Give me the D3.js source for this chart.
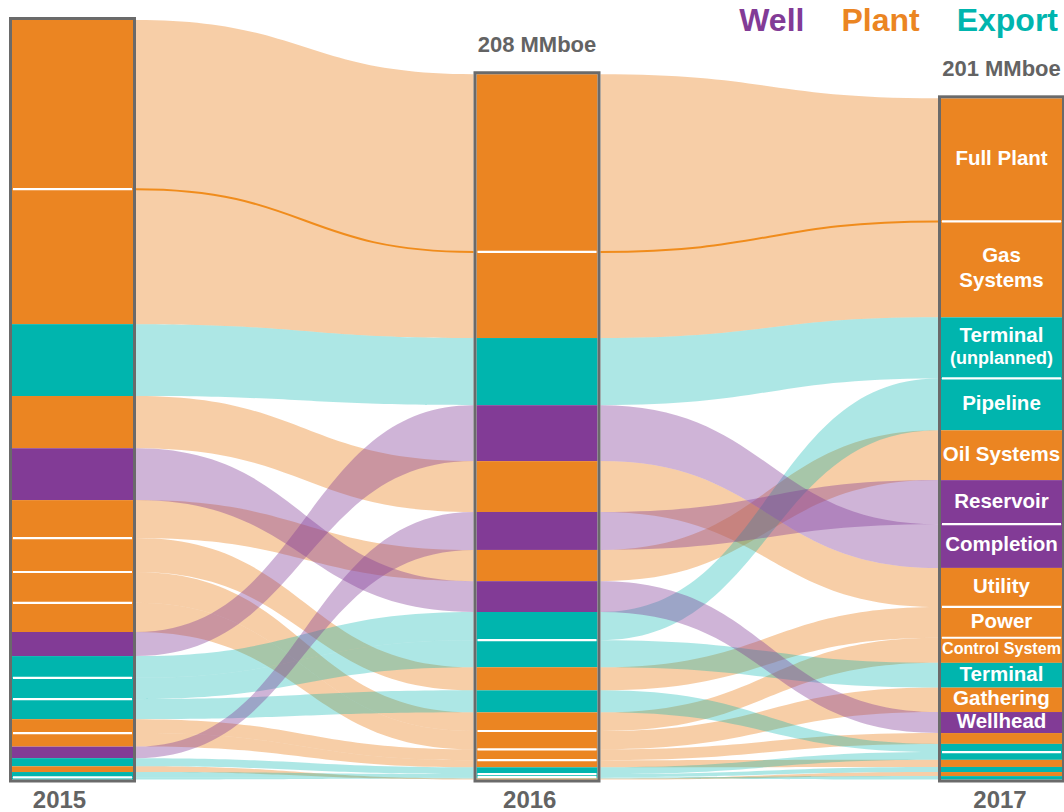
<!DOCTYPE html>
<html>
<head>
<meta charset="utf-8">
<script src="https://cdn.jsdelivr.net/npm/d3@7"></script>
<style>
  html, body { margin: 0; padding: 0; background: #ffffff; }
  svg { display: block; font-family: "Liberation Sans", Arial, Helvetica, sans-serif; font-weight: bold; }
</style>
</head>
<body>
<svg id="chart" width="1064" height="812"></svg>
<script>
// Deferred production (MMboe) by cause, ranked within each year
const years = ["2015", "2016", "2017"];

const categories = [
  "Full Plant", "Gas Systems", "Terminal (unplanned)", "Pipeline", "Oil Systems",
  "Reservoir", "Completion", "Utility", "Power", "Control System",
  "Terminal", "Gathering", "Wellhead", "Compression", "Water Injection",
  "Flare", "Tanker Loading", "Metering", "Storage", "Jetty"
];

const groups = [
  "Plant", "Plant", "Export", "Export", "Plant",
  "Well", "Well", "Plant", "Plant", "Plant",
  "Export", "Plant", "Well", "Plant", "Plant",
  "Plant", "Export", "Export", "Export", "Export"
];

const values2015 = [49.9, 39.8, 21.2, 6.4, 11.2, 3.4, 7.1, 15.4, 10.0, 9.1, 6.3, 8.6, 15.3, 4.1, 4.0, 1.7, 5.9, 2.4, 1.6, 0.6];
const values2016 = [52.4, 25.4, 19.8, 8.3, 9.2, 11.2, 16.5, 15.0, 6.8, 5.5, 8.0, 5.4, 9.1, 3.2, 2.1, 0.3, 6.5, 2.0, 0.9, 0.4];
const values2017 = [36.3, 28.3, 18.0, 15.3, 14.7, 13.0, 12.9, 11.5, 9.1, 7.4, 7.3, 7.2, 6.2, 3.2, 2.1, 1.2, 2.4, 2.3, 1.5, 1.0];

// Labels written inside the latest year's column (one entry per line)
const labelLines = [
  ["Full Plant"], ["Gas", "Systems"], ["Terminal", "(unplanned)"], ["Pipeline"], ["Oil Systems"],
  ["Reservoir"], ["Completion"], ["Utility"], ["Power"], ["Control System"],
  ["Terminal"], ["Gathering"], ["Wellhead"], [], [],
  [], [], [], [], []
];

const legendItems = ["Well", "Plant", "Export"];
const unit = "MMboe";

// ---------------------------------------------------------------------------
const valuesByYear = [values2015, values2016, values2017];

const svg = d3.select("#chart");

const colour = d3.scaleOrdinal()
  .domain(["Well", "Plant", "Export"])
  .range(["#823B96", "#EB8522", "#00B5AE"]);

const totals = valuesByYear.map(v => d3.sum(v));

const x = d3.scalePoint().domain(years).range([72.5, 1001.5]);
const xYearLabel = d3.scalePoint().domain(years).range([59.5, 1000]);
const y = d3.scaleLinear().domain([0, d3.max(totals)]).range([779.5, 20]);

const half = 62;       // half column width, measured to the frame's stroke centre
const frameW = 3;
const innerHalf = half - frameW / 2;
const outerHalf = half + frameW / 2;

// Rank each year and stack from the top down
const layout = years.map((yr, yi) => {
  const vals = valuesByYear[yi];
  const order = d3.range(categories.length).sort((a, b) => vals[b] - vals[a]);
  const total = totals[yi];
  const pos = new Array(categories.length);
  let acc = 0;
  order.forEach(ci => {
    pos[ci] = { top: y(total - acc), bottom: y(total - acc - vals[ci]) };
    acc += vals[ci];
  });
  return { year: yr, order, pos, total };
});

function ribbonPath(x0, t0, b0, x1, t1, b1) {
  const xm = (x0 + x1) / 2;
  const p = d3.path();
  p.moveTo(x0, t0);
  p.bezierCurveTo(xm, t0, xm, t1, x1, t1);
  p.lineTo(x1, b1);
  p.bezierCurveTo(xm, b1, xm, b0, x0, b0);
  p.closePath();
  return p.toString();
}

function edgePath(x0, y0, x1, y1) {
  const xm = (x0 + x1) / 2;
  const p = d3.path();
  p.moveTo(x0, y0);
  p.bezierCurveTo(xm, y0, xm, y1, x1, y1);
  return p.toString();
}

// Ribbons between consecutive years
const ribbonLayer = svg.append("g").attr("class", "ribbons");
const drawOrder = ["Plant", "Export", "Well"];
const ribbonData = [];
for (let yi = 0; yi < years.length - 1; yi++) {
  const a = layout[yi], b = layout[yi + 1];
  const x0 = x(a.year) + outerHalf, x1 = x(b.year) - outerHalf;
  categories.forEach((c, ci) => {
    ribbonData.push({
      group: groups[ci],
      d: ribbonPath(x0, a.pos[ci].top, a.pos[ci].bottom, x1, b.pos[ci].top, b.pos[ci].bottom)
    });
  });
}
ribbonData.sort((p, q) => drawOrder.indexOf(p.group) - drawOrder.indexOf(q.group));
ribbonLayer.selectAll("path")
  .data(ribbonData)
  .join("path")
  .attr("d", d => d.d)
  .attr("fill", d => colour(d.group))
  .attr("fill-opacity", d => d.group === "Export" ? 0.32 : (d.group === "Well" ? 0.38 : 0.4));

// Divider traced along the boundary of the two largest plant ribbons
const topCat = 0;
for (let yi = 0; yi < years.length - 1; yi++) {
  const a = layout[yi], b = layout[yi + 1];
  ribbonLayer.append("path")
    .attr("d", edgePath(x(a.year) + outerHalf, a.pos[topCat].bottom, x(b.year) - outerHalf, b.pos[topCat].bottom))
    .attr("fill", "none")
    .attr("stroke", "#F08C1C")
    .attr("stroke-width", 2);
}

// Columns
const cols = svg.append("g").attr("class", "columns");
layout.forEach(L => {
  const cx = x(L.year);
  const g = cols.append("g");

  g.selectAll("rect.seg")
    .data(L.order)
    .join("rect")
    .attr("class", "seg")
    .attr("x", cx - innerHalf)
    .attr("width", innerHalf * 2)
    .attr("y", ci => L.pos[ci].top)
    .attr("height", ci => Math.max(0, L.pos[ci].bottom - L.pos[ci].top))
    .attr("fill", ci => colour(groups[ci]));

  // White separators between neighbouring segments of the same family
  const seps = [];
  for (let k = 1; k < L.order.length; k++) {
    const prev = L.order[k - 1], cur = L.order[k];
    if (groups[prev] === groups[cur]) seps.push(L.pos[cur].top);
  }
  g.selectAll("line.sep")
    .data(seps)
    .join("line")
    .attr("class", "sep")
    .attr("x1", cx - innerHalf + 1)
    .attr("x2", cx + innerHalf - 1)
    .attr("y1", d => d)
    .attr("y2", d => d)
    .attr("stroke", "#ffffff")
    .attr("stroke-width", 2.2);

  // Frame
  g.append("rect")
    .attr("x", cx - half)
    .attr("width", half * 2)
    .attr("y", y(L.total) - frameW / 2)
    .attr("height", y(0) - y(L.total) + frameW)
    .attr("fill", "none")
    .attr("stroke", "#6a6a6a")
    .attr("stroke-width", frameW);

  // Year total above the column, where there is room for it
  if (y(L.total) > 40) {
    svg.append("text")
      .attr("x", cx)
      .attr("y", y(L.total) - 22)
      .attr("text-anchor", "middle")
      .attr("font-size", 22)
      .attr("fill", "#636363")
      .text(`${Math.round(L.total)} ${unit}`);
  }

  // Year label
  svg.append("text")
    .attr("x", xYearLabel(L.year))
    .attr("y", 808)
    .attr("text-anchor", "middle")
    .attr("font-size", 24)
    .attr("fill", "#636363")
    .text(L.year);
});

// Category labels inside the latest column
const last = layout[layout.length - 1];
const lcx = x(last.year);
const labelLayer = svg.append("g").attr("class", "labels");
categories.forEach((c, ci) => {
  const lines = labelLines[ci];
  if (!lines.length) return;
  const seg = last.pos[ci];
  const mid = (seg.top + seg.bottom) / 2;
  const sizes = lines.map(t => t.startsWith("(") ? 18 : 20.5);
  const nodes = lines.map((t, li) => labelLayer.append("text")
    .attr("x", lcx)
    .attr("text-anchor", "middle")
    .attr("font-size", sizes[li])
    .attr("fill", "#ffffff")
    .text(t));
  // shrink any line that would overflow the column
  nodes.forEach((n, li) => {
    const w = n.node().getComputedTextLength();
    const maxW = innerHalf * 2 - 2;
    if (w > maxW) { sizes[li] = sizes[li] * maxW / w; n.attr("font-size", sizes[li]); }
  });
  const gaps = [];
  for (let li = 1; li < lines.length; li++) gaps.push((sizes[li - 1] + sizes[li]) / 2 * 1.22);
  const span = d3.sum(gaps);
  let cy = mid - span / 2 - 2;
  nodes.forEach((n, li) => {
    if (li > 0) cy += gaps[li - 1];
    n.attr("y", cy + sizes[li] * 0.36);
  });
});

// Legend, right aligned along the top edge
const legend = svg.append("g").attr("class", "legend");
let right = 1058;
legendItems.slice().reverse().forEach(name => {
  const t = legend.append("text")
    .attr("x", right)
    .attr("y", 31)
    .attr("text-anchor", "end")
    .attr("font-size", 32)
    .attr("fill", colour(name))
    .text(name);
  right -= t.node().getComputedTextLength() + 37;
});
</script>
</body>
</html>
